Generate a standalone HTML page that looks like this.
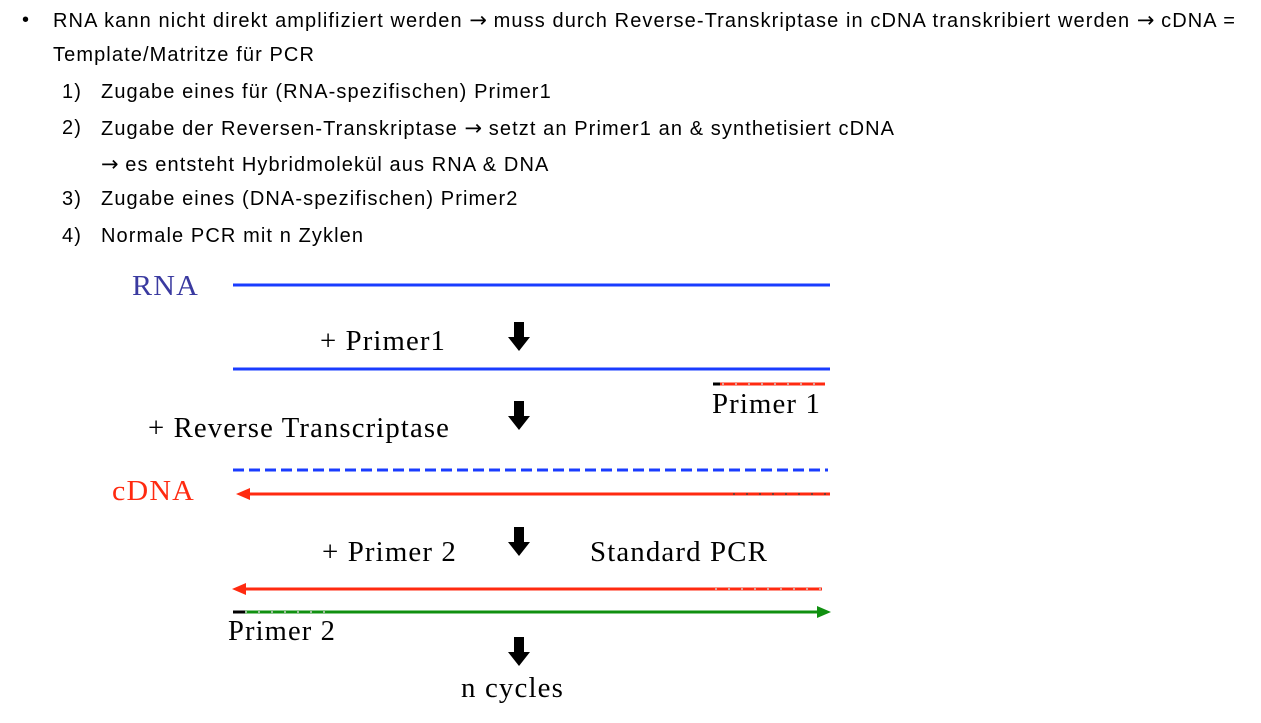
<!DOCTYPE html>
<html><head><meta charset="utf-8"><style>
body{margin:0;width:1261px;height:723px;background:#fff;position:relative;overflow:hidden;font-family:"Liberation Sans",sans-serif;font-size:20px;letter-spacing:1.1px;color:#000}
.t{position:absolute;white-space:nowrap;line-height:22px}
.a{font-family:"DejaVu Sans",sans-serif;letter-spacing:0;font-size:21px}
</style></head><body>
<div class="t" style="left:22px;top:9px">•</div>
<div class="t" style="left:53px;top:9px">RNA kann nicht direkt amplifiziert werden <span class="a">→</span> muss durch Reverse-Transkriptase in cDNA transkribiert werden <span class="a">→</span> cDNA =</div>
<div class="t" style="left:53px;top:44px">Template/Matritze für PCR</div>
<div class="t" style="left:62px;top:81px">1)</div><div class="t" style="left:101px;top:81px">Zugabe eines für (RNA-spezifischen) Primer1</div>
<div class="t" style="left:62px;top:117px">2)</div><div class="t" style="left:101px;top:117px">Zugabe der Reversen-Transkriptase <span class="a">→</span> setzt an Primer1 an &amp; synthetisiert cDNA</div>
<div class="t" style="left:101px;top:153px"><span class="a">→</span> es entsteht Hybridmolekül aus RNA &amp; DNA</div>
<div class="t" style="left:62px;top:188px">3)</div><div class="t" style="left:101px;top:188px">Zugabe eines (DNA-spezifischen) Primer2</div>
<div class="t" style="left:62px;top:225px">4)</div><div class="t" style="left:101px;top:225px">Normale PCR mit n Zyklen</div>
<svg width="1261" height="723" style="position:absolute;left:0;top:0" font-family="Liberation Serif,serif" font-size="28">
<text x="132" y="295" fill="#3a3aa0" textLength="67" lengthAdjust="spacingAndGlyphs">RNA</text>
<line x1="233" y1="285" x2="830" y2="285" stroke="#1a3cff" stroke-width="3"/>
<text x="320" y="350" fill="#000" textLength="126" lengthAdjust="spacingAndGlyphs">+ Primer1</text>
<line x1="233" y1="369" x2="830" y2="369" stroke="#1a3cff" stroke-width="3"/>
<line x1="713" y1="384" x2="825" y2="384" stroke="#ff2a10" stroke-width="3"/>
<line x1="722" y1="384" x2="825" y2="384" stroke="#ccc" stroke-width="1.5" stroke-dasharray="2 11"/>
<line x1="713" y1="384" x2="720" y2="384" stroke="#000" stroke-width="3"/>
<text x="712" y="413" fill="#000" textLength="109" lengthAdjust="spacingAndGlyphs">Primer 1</text>
<text x="148" y="437" fill="#000" textLength="302" lengthAdjust="spacingAndGlyphs">+ Reverse Transcriptase</text>
<line x1="233" y1="470" x2="828" y2="470" stroke="#1a3cff" stroke-width="3" stroke-dasharray="11 5"/>
<text x="112" y="500" fill="#ff2a10" textLength="83" lengthAdjust="spacingAndGlyphs">cDNA</text>
<line x1="245" y1="494" x2="830" y2="494" stroke="#ff2a10" stroke-width="3"/>
<line x1="733" y1="494" x2="830" y2="494" stroke="#444" stroke-width="1.5" stroke-dasharray="2 11"/>
<polygon points="236,494 250,488 250,500" fill="#ff2a10"/>
<text x="322" y="561" fill="#000" textLength="135" lengthAdjust="spacingAndGlyphs">+ Primer 2</text>
<text x="590" y="561" fill="#000" textLength="178" lengthAdjust="spacingAndGlyphs">Standard PCR</text>
<line x1="245" y1="589" x2="822" y2="589" stroke="#ff2a10" stroke-width="3"/>
<line x1="715" y1="589" x2="822" y2="589" stroke="#ccc" stroke-width="1.5" stroke-dasharray="2 11"/>
<polygon points="232,589 246,583 246,595" fill="#ff2a10"/>
<line x1="233" y1="612" x2="818" y2="612" stroke="#109010" stroke-width="3"/>
<line x1="245" y1="612" x2="330" y2="612" stroke="#ccc" stroke-width="1.5" stroke-dasharray="2 11"/>
<polygon points="831,612 817,606 817,618" fill="#109010"/>
<line x1="233" y1="612" x2="245" y2="612" stroke="#000" stroke-width="3"/>
<text x="228" y="640" fill="#000" textLength="108" lengthAdjust="spacingAndGlyphs">Primer 2</text>
<text x="461" y="697" fill="#000" textLength="103" lengthAdjust="spacingAndGlyphs">n cycles</text>
<g fill="#000">
<polygon points="514,322 524,322 524,337 530,337 519,351 508,337 514,337"/>
<polygon points="514,401 524,401 524,416 530,416 519,430 508,416 514,416"/>
<polygon points="514,527 524,527 524,542 530,542 519,556 508,542 514,542"/>
<polygon points="514,637 524,637 524,652 530,652 519,666 508,652 514,652"/>
</g>
</svg>
</body></html>
